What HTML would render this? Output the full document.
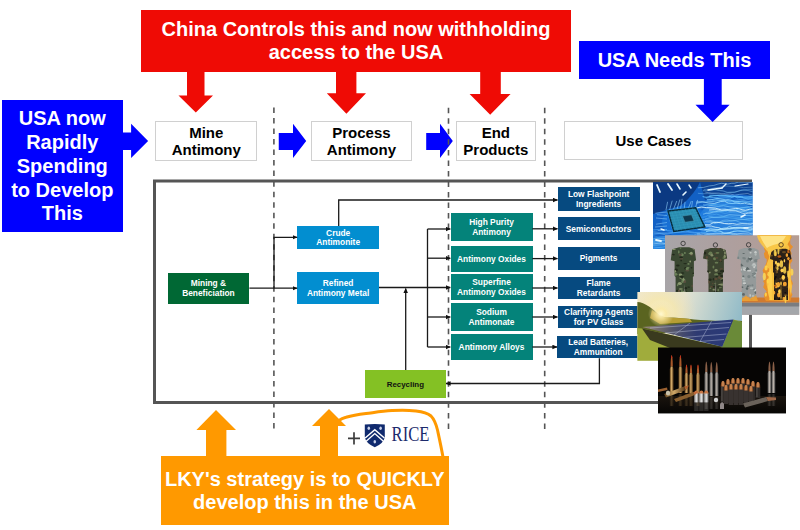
<!DOCTYPE html>
<html><head><meta charset="utf-8">
<style>
html,body{margin:0;padding:0;background:#fff;}
body{width:800px;height:530px;position:relative;overflow:hidden;font-family:"Liberation Sans",sans-serif;}
.a{position:absolute;}
.big{font-weight:bold;font-size:20px;color:#fff;text-align:center;white-space:nowrap;}
.lab{position:absolute;box-sizing:border-box;border:1.8px solid #d0d0d0;background:#fff;}
.labt{position:absolute;font-weight:bold;font-size:15px;line-height:16.8px;color:#000;text-align:center;white-space:nowrap;}
.fb{position:absolute;box-sizing:border-box;padding-top:1.8px;display:flex;align-items:center;justify-content:center;text-align:center;color:#fff;font-weight:bold;font-size:8.4px;line-height:9.6px;white-space:nowrap;}
svg{position:absolute;left:0;top:0;}
</style></head>
<body>
<!-- red box -->
<div class="a" style="left:141px;top:10px;width:430.4px;height:61.6px;background:#EF0B05;"></div>
<div class="a big" style="left:141px;top:18px;width:430px;line-height:22.5px;">China Controls this and now withholding<br>access to the USA</div>
<!-- blue top right -->
<div class="a" style="left:578.7px;top:40.7px;width:191.6px;height:38.7px;background:#0000FF;"></div>
<div class="a big" style="left:579px;top:48.7px;width:191px;line-height:22.5px;">USA Needs This</div>
<!-- blue left -->
<div class="a" style="left:1.5px;top:100.1px;width:121.3px;height:131.6px;background:#0000FF;"></div>
<div class="a big" style="left:2px;top:106.8px;width:120.6px;line-height:23.9px;">USA now<br>Rapidly<br>Spending<br>to Develop<br>This</div>

<!-- label boxes -->
<div class="lab" style="left:155px;top:121.1px;width:102.3px;height:40px;"></div>
<div class="labt" style="left:155.6px;top:124.9px;width:101.3px;">Mine<br>Antimony</div>
<div class="lab" style="left:310.7px;top:121.2px;width:101.5px;height:39.8px;"></div>
<div class="labt" style="left:311.2px;top:124.8px;width:100.5px;">Process<br>Antimony</div>
<div class="lab" style="left:455.7px;top:121.2px;width:80.3px;height:39.8px;"></div>
<div class="labt" style="left:456.2px;top:124.8px;width:79.3px;">End<br>Products</div>
<div class="lab" style="left:563.9px;top:121.4px;width:179.1px;height:39.1px;"></div>
<div class="labt" style="left:564.4px;top:133.3px;width:178.1px;">Use Cases</div>

<svg width="800" height="530" viewBox="0 0 800 530">
  <defs>
    <marker id="ah" markerWidth="5" markerHeight="5" refX="4.6" refY="2.5" orient="auto" markerUnits="userSpaceOnUse">
      <path d="M0,0.2 L5,2.5 L0,4.8 z" fill="#111"/>
    </marker>
  </defs>
  <!-- red arrows -->
  <g fill="#EF0B05">
    <polygon points="187,70 204.5,70 204.5,95.5 213,95.5 195.8,112.5 178.5,95.5 187,95.5"/>
    <polygon points="336,70 356.4,70 356.4,93.3 366,93.3 346.4,113.7 326.8,93.3 336,93.3"/>
    <polygon points="480.2,70 500.8,70 500.8,93.9 510.6,93.9 490.2,114.8 469.6,93.9 480.2,93.9"/>
  </g>
  <!-- blue arrows -->
  <g fill="#0000FF">
    <polygon points="703.9,78 721.7,78 721.7,104.8 729.6,104.8 712.6,121.9 695.5,104.8 703.9,104.8"/>
    <polygon points="122,132.6 131.1,132.6 131.1,123.8 148.1,140.9 131.1,158.1 131.1,149.9 122,149.9"/>
    <polygon points="278.75,133 293,133 293,123.8 306.2,141 293,158 293,150 278.75,150"/>
    <polygon points="426.2,133 440,133 440,123.8 452.8,141 440,158 440,150 426.2,150"/>
  </g>
  <!-- dashed lines -->
  <g stroke="#555" stroke-width="1.6" stroke-dasharray="5.5 5.02">
    <line x1="273.9" y1="107.5" x2="273.9" y2="429"/>
    <line x1="448.5" y1="107.8" x2="448.5" y2="429"/>
    <line x1="544.7" y1="107.8" x2="544.7" y2="429"/>
  </g>
  <!-- frame -->
  <rect x="154.5" y="181" width="596" height="221.5" fill="none" stroke="#555" stroke-width="3"/>
</svg>

<!-- flow boxes -->
<div class="fb" style="left:167.5px;top:272.7px;width:81.9px;height:31px;background:#006834;">Mining &amp;<br>Beneficiation</div>
<div class="fb" style="left:297.2px;top:226.1px;width:82px;height:22.6px;background:#028ED0;">Crude<br>Antimonite</div>
<div class="fb" style="left:297.1px;top:272.1px;width:82px;height:31.9px;background:#028ED0;">Refined<br>Antimony Metal</div>

<div class="fb" style="left:450.5px;top:213.2px;width:82px;height:27.5px;background:#04837A;">High Purity<br>Antimony</div>
<div class="fb" style="left:450.5px;top:245.5px;width:82px;height:26.5px;background:#04837A;">Antimony Oxides</div>
<div class="fb" style="left:450.5px;top:273.7px;width:82px;height:26.8px;background:#04837A;">Superfine<br>Antimony Oxides</div>
<div class="fb" style="left:450.5px;top:303.2px;width:82px;height:27.5px;background:#04837A;">Sodium<br>Antimonate</div>
<div class="fb" style="left:450.5px;top:333.7px;width:82px;height:26.5px;background:#04837A;">Antimony Alloys</div>

<div class="fb" style="left:557.6px;top:187.2px;width:82px;height:23.5px;background:#064A80;">Low Flashpoint<br>Ingredients</div>
<div class="fb" style="left:557.6px;top:216.6px;width:82px;height:23.8px;background:#064A80;">Semiconductors</div>
<div class="fb" style="left:557.6px;top:247px;width:82px;height:22.7px;background:#064A80;">Pigments</div>
<div class="fb" style="left:557.6px;top:276.8px;width:82px;height:22.6px;background:#064A80;">Flame<br>Retardants</div>
<div class="fb" style="left:557.6px;top:306px;width:82px;height:22.3px;background:#064A80;">Clarifying Agents<br>for PV Glass</div>
<div class="fb" style="left:557.2px;top:335.7px;width:82px;height:22.6px;background:#064A80;">Lead Batteries,<br>Ammunition</div>

<div class="fb" style="left:364.7px;top:370px;width:81.3px;height:27.5px;background:#84C124;color:#111;font-size:7.9px;">Recycling</div>

<svg width="800" height="530" viewBox="0 0 800 530">
  <g stroke="#1a1a1a" stroke-width="1.3" fill="none">
    <path d="M249.4,288.2 H297.1" marker-end="url(#ah)"/>
    <path d="M274,288.2 V237.3 H297.1" marker-end="url(#ah)"/>
    <path d="M338.7,226 V200 H557.5" marker-end="url(#ah)"/>
    <path d="M379,287.5 H450.3" marker-end="url(#ah)"/>
    <path d="M427.5,229 V347"/>
    <path d="M427.5,229 H450.3" marker-end="url(#ah)"/>
    <path d="M427.5,258.2 H450.3" marker-end="url(#ah)"/>
    <path d="M427.5,317 H450.3" marker-end="url(#ah)"/>
    <path d="M427.5,347 H450.3" marker-end="url(#ah)"/>
    <path d="M532.3,228.8 H557.5" marker-end="url(#ah)"/>
    <path d="M532.3,258.6 H557.5" marker-end="url(#ah)"/>
    <path d="M532.3,288 H557.5" marker-end="url(#ah)"/>
    <path d="M532.3,317 H557.5" marker-end="url(#ah)"/>
    <path d="M532.3,347 H557" marker-end="url(#ah)"/>
    <path d="M405.7,370 V288.5" marker-end="url(#ah)"/>
    <path d="M599.4,358.3 V383.5 H446" marker-end="url(#ah)"/>
  </g>
  <!-- images placeholders -->
  <!-- IMAGES -->
  <defs>
    <clipPath id="cchip"><rect x="653" y="182" width="99.7" height="67"/></clipPath>
    <clipPath id="ccloth"><rect x="665" y="235.3" width="134.2" height="79.5"/></clipPath>
    <clipPath id="csolar"><rect x="637.4" y="291.9" width="104.6" height="68.8"/></clipPath>
    <clipPath id="cbul"><rect x="658" y="347.4" width="128" height="65.8"/></clipPath>
    <linearGradient id="gchip" x1="0" y1="0" x2="1" y2="1">
      <stop offset="0" stop-color="#0b2a66"/>
      <stop offset="0.45" stop-color="#0d4fae"/>
      <stop offset="1" stop-color="#1a78d8"/>
    </linearGradient>
    <radialGradient id="gchipglow" cx="0.78" cy="0.55" r="0.5">
      <stop offset="0" stop-color="#9ad8ff" stop-opacity="0.75"/>
      <stop offset="1" stop-color="#2a8ae8" stop-opacity="0"/>
    </radialGradient>
    <linearGradient id="gwall" x1="0" y1="0" x2="1" y2="0">
      <stop offset="0" stop-color="#a8a5a8"/>
      <stop offset="0.5" stop-color="#ae9f9e"/>
      <stop offset="1" stop-color="#b59c92"/>
    </linearGradient>
    <linearGradient id="gsky" x1="0" y1="0" x2="1" y2="0.2">
      <stop offset="0" stop-color="#f2ead0"/>
      <stop offset="0.45" stop-color="#e2e2d2"/>
      <stop offset="1" stop-color="#94bcc8"/>
    </linearGradient>
    <radialGradient id="gsun" cx="0.22" cy="0.33" r="0.35">
      <stop offset="0" stop-color="#fffbe0"/>
      <stop offset="0.35" stop-color="#ffe890" stop-opacity="0.9"/>
      <stop offset="1" stop-color="#f0d080" stop-opacity="0"/>
    </radialGradient>
    <linearGradient id="gpanel" x1="0" y1="0" x2="1" y2="0">
      <stop offset="0" stop-color="#9a8a78"/>
      <stop offset="0.3" stop-color="#5a5a6a"/>
      <stop offset="0.6" stop-color="#2e3a72"/>
      <stop offset="1" stop-color="#2a3a78"/>
    </linearGradient>
    <radialGradient id="gsun2" cx="0.5" cy="0.5" r="0.5">
      <stop offset="0" stop-color="#fff8d0" stop-opacity="1"/>
      <stop offset="0.4" stop-color="#fbe8a0" stop-opacity="0.8"/>
      <stop offset="1" stop-color="#f0e0b0" stop-opacity="0"/>
    </radialGradient>
    <linearGradient id="gbrass" x1="0" y1="0" x2="1" y2="0">
      <stop offset="0" stop-color="#5a3c18"/>
      <stop offset="0.45" stop-color="#d0a868"/>
      <stop offset="1" stop-color="#4a3014"/>
    </linearGradient>
    <linearGradient id="gsilver" x1="0" y1="0" x2="1" y2="0">
      <stop offset="0" stop-color="#4a4a4a"/>
      <stop offset="0.5" stop-color="#b8b0a8"/>
      <stop offset="1" stop-color="#3a3a3a"/>
    </linearGradient>
    <linearGradient id="gsilver2" x1="0" y1="0" x2="1" y2="0">
      <stop offset="0" stop-color="#8a8a8a"/>
      <stop offset="0.5" stop-color="#e0e0e0"/>
      <stop offset="1" stop-color="#707070"/>
    </linearGradient>
    <linearGradient id="grefl" x1="0" y1="0" x2="0" y2="1">
      <stop offset="0" stop-color="#1a140e"/>
      <stop offset="1" stop-color="#060504"/>
    </linearGradient>
    <linearGradient id="gcopper" x1="0" y1="0" x2="1" y2="0">
      <stop offset="0" stop-color="#6a3010"/>
      <stop offset="0.5" stop-color="#e09a60"/>
      <stop offset="1" stop-color="#5a2a10"/>
    </linearGradient>
  </defs>

  <!-- chip image -->
  <g clip-path="url(#cchip)">
    <rect x="653" y="182" width="100.7" height="68" fill="#1260c4"/>
    <path d="M653,182 L700,182 C695,192 688,200 680,206 L653,214 Z" fill="#0a2c6c" opacity="0.75"/>
    <path d="M700,182 L752.7,182 L752.7,196 C735,192 715,196 705,200 Z" fill="#0a2a6a" opacity="0.55"/>
    <ellipse cx="728" cy="222" rx="30" ry="22" fill="#3a9af0" opacity="0.55"/>
    <ellipse cx="686" cy="222" rx="24" ry="16" fill="#1a7ae0" opacity="0.6"/>
    <ellipse cx="665" cy="244" rx="16" ry="8" fill="#3aa0f0" opacity="0.5"/>
    <path d="M698.1,187.8 Q703.7,187.9 709.3,185.9 Q713.8,185.9 718.2,184.0 Q721.4,182.7 724.5,183.7 Q727.9,184.7 731.3,183.3 Q734.8,183.7 738.3,182.1 Q745.1,181.8 751.8,182.5 Q758.7,183.5 765.7,180.5" stroke="#b8ecff" stroke-width="0.87" fill="none" opacity="0.52"/>
    <path d="M703.8,189.5 Q709.6,189.7 715.3,187.7 Q719.1,188.4 722.8,186.0 Q728.1,186.0 733.3,186.5 Q738.4,186.4 743.6,187.7 Q750.3,187.0 757.0,187.1" stroke="#b8ecff" stroke-width="0.64" fill="none" opacity="0.46"/>
    <path d="M702.9,190.6 Q707.3,190.9 711.7,190.3 Q715.0,189.3 718.3,190.4 Q722.6,190.2 727.0,192.3 Q733.8,192.5 740.7,190.4 Q746.9,190.0 753.0,191.8 Q757.4,192.7 761.8,191.8" stroke="#8fd8ff" stroke-width="1.07" fill="none" opacity="0.39"/>
    <path d="M705.3,192.2 Q708.5,192.6 711.8,193.1 Q718.8,192.4 725.7,194.5 Q730.3,193.0 734.8,195.2 Q739.7,194.1 744.5,193.8 Q747.7,192.6 751.0,194.9 Q755.0,196.0 759.0,194.5" stroke="#e0f8ff" stroke-width="0.80" fill="none" opacity="0.40"/>
    <path d="M697.9,193.3 Q702.6,194.0 707.4,193.6 Q714.3,193.2 721.3,194.4 Q725.2,193.3 729.1,192.5 Q734.7,193.5 740.4,190.4 Q744.1,189.3 747.8,189.4 Q753.0,188.9 758.1,189.9" stroke="#8fd8ff" stroke-width="0.83" fill="none" opacity="0.43"/>
    <path d="M709.3,195.4 Q715.0,195.1 720.8,195.7 Q725.3,195.4 729.9,195.6 Q733.7,195.4 737.4,197.8 Q740.9,196.6 744.3,198.2 Q749.6,199.5 754.9,198.4 Q760.3,197.5 765.8,196.5" stroke="#60c0ff" stroke-width="1.08" fill="none" opacity="0.58"/>
    <path d="M702.6,196.5 Q706.1,198.0 709.6,196.5 Q714.5,195.4 719.4,195.6 Q725.4,195.6 731.4,196.7 Q737.2,195.8 742.9,196.8 Q749.7,197.3 756.6,196.2" stroke="#60c0ff" stroke-width="1.09" fill="none" opacity="0.90"/>
    <path d="M705.7,198.2 Q709.8,197.2 713.8,197.6 Q719.9,198.5 726.0,197.8 Q730.3,198.7 734.6,196.6 Q741.6,197.5 748.5,198.1 Q754.8,197.3 761.1,199.2" stroke="#60c0ff" stroke-width="0.97" fill="none" opacity="0.66"/>
    <path d="M707.1,199.8 Q712.0,200.1 716.8,198.4 Q721.2,199.1 725.6,199.8 Q730.0,198.5 734.4,201.9 Q737.8,201.4 741.2,201.8 Q746.1,202.1 751.1,203.9 Q754.1,203.4 757.1,205.7" stroke="#8fd8ff" stroke-width="1.05" fill="none" opacity="0.74"/>
    <path d="M706.5,200.9 Q711.4,201.8 716.3,199.5 Q720.7,200.9 725.0,200.8 Q729.6,202.2 734.2,200.4 Q740.1,199.3 746.0,199.0 Q749.6,199.9 753.2,200.7 Q756.7,202.2 760.3,202.2" stroke="#60c0ff" stroke-width="0.68" fill="none" opacity="0.74"/>
    <path d="M696.3,202.1 Q702.5,200.9 708.7,203.1 Q714.7,204.5 720.7,201.5 Q724.5,200.1 728.2,203.1 Q732.1,203.9 736.0,203.1 Q740.3,204.1 744.6,203.3 Q747.8,204.5 751.0,204.4 Q756.7,204.4 762.3,205.8" stroke="#b8ecff" stroke-width="0.87" fill="none" opacity="0.85"/>
    <path d="M696.3,203.4 Q701.0,201.9 705.8,202.0 Q712.0,202.0 718.2,200.6 Q724.1,200.1 730.0,200.8 Q735.1,201.7 740.1,201.1 Q743.5,200.3 747.0,201.3 Q751.1,201.4 755.2,202.5" stroke="#8fd8ff" stroke-width="0.82" fill="none" opacity="0.69"/>
    <path d="M703.1,204.9 Q708.1,204.8 713.2,205.8 Q718.3,207.1 723.4,205.7 Q729.2,207.0 735.0,207.3 Q739.1,208.7 743.1,207.6 Q749.5,206.5 755.8,206.0" stroke="#8fd8ff" stroke-width="0.94" fill="none" opacity="0.62"/>
    <path d="M699.0,206.1 Q703.2,206.9 707.4,204.5 Q714.2,204.1 720.9,205.1 Q724.9,205.0 728.9,203.5 Q734.9,204.6 740.9,201.7 Q744.6,200.9 748.2,202.4 Q754.0,202.2 759.9,204.6" stroke="#60c0ff" stroke-width="0.76" fill="none" opacity="0.60"/>
    <path d="M696.3,207.9 Q701.5,206.4 706.7,207.6 Q711.0,207.6 715.4,208.1 Q718.6,209.0 721.9,210.3 Q728.8,209.6 735.6,208.5 Q738.8,207.9 742.0,209.8 Q745.5,211.0 749.0,209.4 Q755.3,208.4 761.6,208.4" stroke="#e0f8ff" stroke-width="0.95" fill="none" opacity="0.90"/>
    <path d="M696.8,208.5 Q702.6,207.2 708.3,208.2 Q715.1,209.1 721.8,208.8 Q725.2,207.5 728.5,210.3 Q734.9,209.9 741.4,210.1 Q746.6,209.4 751.8,212.0 Q755.3,211.2 758.8,212.1" stroke="#b8ecff" stroke-width="0.73" fill="none" opacity="0.42"/>
    <path d="M709.1,210.0 Q714.6,209.1 720.1,210.2 Q724.9,209.5 729.6,210.9 Q735.9,209.5 742.1,213.1 Q745.1,214.5 748.2,213.1 Q753.3,213.0 758.3,212.0" stroke="#e0f8ff" stroke-width="0.93" fill="none" opacity="0.74"/>
    <path d="M708.4,211.9 Q715.3,211.0 722.2,211.0 Q726.1,212.2 730.0,209.7 Q736.0,211.2 741.9,208.1 Q748.8,206.6 755.7,209.6" stroke="#60c0ff" stroke-width="0.82" fill="none" opacity="0.73"/>
    <path d="M705.3,212.7 Q709.8,214.1 714.4,212.7 Q719.8,211.3 725.2,213.5 Q728.9,212.1 732.6,212.5 Q737.1,214.0 741.5,211.8 Q745.8,212.9 750.1,209.7 Q754.0,209.2 757.9,208.3" stroke="#60c0ff" stroke-width="0.85" fill="none" opacity="0.40"/>
    <path d="M703.1,214.2 Q706.1,213.0 709.1,213.2 Q713.7,211.8 718.3,211.2 Q722.5,211.4 726.7,210.0 Q731.9,210.5 737.0,211.1 Q742.8,210.8 748.7,212.8 Q753.0,211.7 757.3,214.9" stroke="#b8ecff" stroke-width="0.62" fill="none" opacity="0.78"/>
    <path d="M708.5,216.4 Q714.0,217.3 719.5,217.4 Q723.1,217.4 726.6,217.5 Q733.0,218.5 739.3,218.9 Q744.6,219.4 750.0,220.6 Q755.7,219.2 761.5,219.4" stroke="#60c0ff" stroke-width="1.08" fill="none" opacity="0.43"/>
    <path d="M702.3,217.3 Q705.5,217.3 708.7,215.1 Q712.7,215.0 716.7,214.1 Q720.0,215.3 723.2,216.0 Q726.6,216.7 730.0,216.1 Q734.9,217.2 739.8,217.5 Q743.7,216.7 747.6,218.6 Q753.2,219.6 758.8,218.4" stroke="#60c0ff" stroke-width="0.98" fill="none" opacity="0.40"/>
    <path d="M705.0,218.9 Q708.3,218.2 711.6,217.4 Q717.6,217.6 723.6,216.5 Q726.6,215.8 729.7,214.6 Q735.4,215.1 741.0,215.4 Q745.2,215.3 749.4,215.5 Q754.2,216.7 759.1,213.8" stroke="#8fd8ff" stroke-width="1.07" fill="none" opacity="0.47"/>
    <path d="M702.4,219.6 Q708.7,219.5 715.0,221.7 Q719.1,223.0 723.1,220.4 Q727.0,219.3 730.8,220.8 Q735.9,219.7 741.0,222.8 Q747.3,223.9 753.6,222.8 Q759.4,224.0 765.2,221.6" stroke="#8fd8ff" stroke-width="0.68" fill="none" opacity="0.64"/>
    <path d="M705.5,222.1 Q710.2,221.9 714.8,223.1 Q719.3,222.6 723.8,221.5 Q728.1,221.2 732.4,220.8 Q739.2,219.3 745.9,219.4 Q751.9,218.1 757.8,218.3" stroke="#8fd8ff" stroke-width="0.78" fill="none" opacity="0.58"/>
    <path d="M699.9,222.9 Q703.0,223.9 706.2,221.2 Q710.4,220.4 714.5,223.1 Q718.6,222.1 722.6,223.1 Q727.1,224.3 731.6,225.1 Q737.9,226.4 744.1,225.7 Q750.9,226.4 757.7,225.9" stroke="#e0f8ff" stroke-width="0.83" fill="none" opacity="0.38"/>
    <path d="M705.0,224.7 Q709.2,226.0 713.3,222.7 Q716.8,222.2 720.3,222.6 Q724.5,224.0 728.7,223.6 Q732.8,223.1 736.8,224.3 Q742.0,223.3 747.3,223.9 Q750.9,225.1 754.5,222.6 Q759.5,223.8 764.5,221.4" stroke="#e0f8ff" stroke-width="0.81" fill="none" opacity="0.95"/>
    <path d="M699.4,225.9 Q703.1,225.3 706.8,226.1 Q711.3,225.2 715.8,227.5 Q718.8,227.1 721.9,229.1 Q727.9,228.4 733.9,227.8 Q739.9,228.0 745.9,227.8 Q750.3,227.9 754.8,228.6 Q760.9,227.4 767.1,230.2" stroke="#e0f8ff" stroke-width="0.80" fill="none" opacity="0.89"/>
    <path d="M709.4,227.1 Q715.7,225.7 722.1,228.8 Q725.3,230.0 728.4,229.7 Q733.3,228.2 738.2,230.1 Q742.8,231.1 747.3,232.0 Q753.7,231.2 760.2,234.0" stroke="#b8ecff" stroke-width="0.68" fill="none" opacity="0.42"/>
    <path d="M697.5,229.2 Q703.8,230.2 710.1,230.1 Q716.7,230.9 723.3,228.2 Q726.3,228.4 729.3,226.6 Q732.4,228.0 735.6,227.5 Q741.1,227.3 746.6,227.6 Q752.7,227.0 758.7,225.9" stroke="#b8ecff" stroke-width="0.79" fill="none" opacity="0.92"/>
    <path d="M704.4,229.7 Q707.5,229.6 710.5,228.8 Q717.3,229.9 724.2,229.4 Q729.1,228.7 734.0,228.3 Q740.8,227.7 747.7,229.2 Q750.7,229.7 753.8,229.2 Q758.5,229.7 763.2,228.1" stroke="#b8ecff" stroke-width="0.85" fill="none" opacity="0.91"/>
    <path d="M706.1,231.6 Q710.5,230.2 715.0,231.2 Q719.1,229.9 723.3,232.7 Q728.3,233.5 733.3,231.4 Q737.0,230.7 740.8,231.2 Q747.4,231.6 753.9,229.5 Q759.4,229.5 764.8,231.3" stroke="#8fd8ff" stroke-width="1.07" fill="none" opacity="0.90"/>
    <path d="M701.5,232.4 Q705.4,231.3 709.2,234.5 Q712.4,234.1 715.6,232.5 Q722.2,233.2 728.8,234.2 Q735.8,233.7 742.8,236.1 Q746.5,236.9 750.3,238.0 Q753.4,237.7 756.5,238.8" stroke="#60c0ff" stroke-width="0.82" fill="none" opacity="0.57"/>
    <path d="M697.1,233.7 Q700.4,234.9 703.7,233.4 Q709.0,233.0 714.2,234.5 Q720.3,235.4 726.4,233.7 Q729.7,232.8 733.1,234.6 Q738.2,234.0 743.4,234.3 Q749.4,234.7 755.3,234.2" stroke="#e0f8ff" stroke-width="0.62" fill="none" opacity="0.50"/>
    <path d="M696.9,235.0 Q703.6,235.8 710.2,234.0 Q716.8,233.3 723.4,233.3 Q730.3,232.6 737.1,233.8 Q743.0,233.1 748.8,233.0 Q751.8,234.2 754.8,234.1 Q760.4,232.7 765.9,236.0" stroke="#e0f8ff" stroke-width="0.96" fill="none" opacity="0.49"/>
    <path d="M706.9,237.0 Q713.0,237.9 719.2,238.8 Q722.7,237.3 726.2,238.8 Q733.0,239.3 739.7,237.9 Q743.3,239.0 746.9,236.7 Q751.8,237.0 756.6,238.0" stroke="#e0f8ff" stroke-width="0.98" fill="none" opacity="0.66"/>
    <path d="M696.9,238.1 Q700.0,237.6 703.2,238.3 Q710.1,239.8 717.0,240.0 Q721.1,238.8 725.1,238.2 Q730.1,238.0 735.1,239.1 Q739.1,239.5 743.0,238.7 Q748.7,239.8 754.4,239.8 Q760.1,240.9 765.7,238.2" stroke="#60c0ff" stroke-width="0.79" fill="none" opacity="0.53"/>
    <path d="M698.8,240.1 Q702.8,239.0 706.8,239.0 Q713.3,238.4 719.8,239.3 Q724.4,239.3 729.0,241.5 Q732.9,241.9 736.9,242.8 Q743.8,242.8 750.8,241.1 Q757.1,242.3 763.3,242.6" stroke="#60c0ff" stroke-width="0.72" fill="none" opacity="0.37"/>
    <path d="M704.4,240.7 Q710.7,239.4 717.0,239.3 Q722.1,239.6 727.1,237.9 Q733.2,236.4 739.3,238.6 Q744.9,238.2 750.4,239.5 Q753.6,238.2 756.7,238.8" stroke="#8fd8ff" stroke-width="0.90" fill="none" opacity="0.95"/>
    <path d="M698.8,242.8 Q701.9,243.3 704.9,242.0 Q708.7,241.1 712.4,241.2 Q718.6,239.9 724.8,241.4 Q728.2,241.6 731.6,240.9 Q737.2,239.9 742.7,239.1 Q748.5,238.5 754.3,238.8 Q758.5,238.2 762.7,240.7" stroke="#60c0ff" stroke-width="0.81" fill="none" opacity="0.69"/>
    <path d="M706.7,243.4 Q712.9,243.1 719.2,244.1 Q723.8,243.9 728.4,246.0 Q732.0,244.8 735.6,244.3 Q741.0,245.1 746.3,243.7 Q749.8,242.6 753.3,241.7 Q759.5,242.0 765.8,241.3" stroke="#b8ecff" stroke-width="0.67" fill="none" opacity="0.91"/>
    <path d="M703.3,245.1 Q710.0,245.1 716.7,243.4 Q722.9,242.5 729.1,245.5 Q732.6,246.9 736.2,247.4 Q741.1,248.7 746.0,245.5 Q750.6,245.8 755.1,247.2" stroke="#b8ecff" stroke-width="0.92" fill="none" opacity="0.84"/>
    <path d="M704.7,247.2 Q710.2,247.1 715.6,245.9 Q720.9,247.2 726.1,243.9 Q729.8,242.8 733.4,243.3 Q740.3,242.3 747.2,244.6 Q753.7,245.2 760.2,246.2" stroke="#60c0ff" stroke-width="0.66" fill="none" opacity="0.75"/>
    <path d="M703.7,248.3 Q709.2,248.1 714.7,247.5 Q720.0,247.9 725.4,247.1 Q730.2,245.7 735.0,246.9 Q740.4,246.1 745.9,246.8 Q752.0,246.7 758.0,248.1" stroke="#e0f8ff" stroke-width="0.80" fill="none" opacity="0.46"/>
    <path d="M653,230.0 L658.3,229.6 L665.2,230.5 L672.7,231.0 L677.9,229.8 L687.5,229.3 L696.1,228.0 L704.9,229.2" stroke="#5ab4ff" stroke-width="0.7" fill="none" opacity="0.88"/>
    <path d="M653,231.4 L658.7,232.5 L668.7,233.2 L677.7,232.2 L687.6,232.2 L697.4,233.5 L703.3,234.3" stroke="#8fd4ff" stroke-width="0.7" fill="none" opacity="0.43"/>
    <path d="M653,232.8 L659.8,233.6 L665.5,234.8 L671.9,235.7 L677.6,235.7 L687.2,234.8 L693.6,234.9 L700.2,233.5" stroke="#8fd4ff" stroke-width="0.7" fill="none" opacity="0.60"/>
    <path d="M653,234.2 L661.2,233.5 L667.8,233.2 L676.8,232.5 L685.6,231.1 L694.9,232.5 L702.2,232.6" stroke="#5ab4ff" stroke-width="0.7" fill="none" opacity="0.84"/>
    <path d="M653,235.6 L658.5,237.1 L666.7,236.8 L675.7,236.1 L685.6,236.3 L692.4,237.1 L699.6,236.1 L708.3,234.8" stroke="#5ab4ff" stroke-width="0.7" fill="none" opacity="0.53"/>
    <path d="M653,237.0 L661.2,238.5 L669.1,238.9 L675.7,237.4 L680.9,236.4 L688.9,236.2 L696.5,237.4 L702.2,236.6" stroke="#5ab4ff" stroke-width="0.7" fill="none" opacity="0.42"/>
    <path d="M653,238.4 L658.3,238.6 L664.8,238.7 L672.5,238.4 L679.0,237.3 L685.8,238.3 L691.6,236.8 L700.6,237.5" stroke="#b8e8ff" stroke-width="0.7" fill="none" opacity="0.45"/>
    <path d="M653,239.8 L661.2,240.9 L670.1,240.6 L676.4,239.2 L684.6,239.3 L691.4,239.8 L698.6,241.1 L707.3,240.3" stroke="#8fd4ff" stroke-width="0.7" fill="none" opacity="0.42"/>
    <path d="M653,241.2 L660.7,240.9 L666.8,239.6 L675.7,238.1 L683.5,239.5 L689.2,238.6 L697.2,238.6 L705.5,239.5" stroke="#8fd4ff" stroke-width="0.7" fill="none" opacity="0.65"/>
    <path d="M653,242.6 L658.3,243.0 L668.3,243.7 L675.7,243.8 L682.6,243.6 L692.1,242.3 L700.4,241.3" stroke="#8fd4ff" stroke-width="0.7" fill="none" opacity="0.53"/>
    <path d="M653,244.0 L661.2,242.9 L670.7,244.1 L680.4,243.4 L685.7,243.8 L694.0,244.4 L703.6,245.8" stroke="#b8e8ff" stroke-width="0.7" fill="none" opacity="0.72"/>
    <path d="M653,245.4 L662.8,244.6 L672.2,243.1 L678.5,242.3 L687.2,243.6 L696.0,243.1 L705.4,242.6" stroke="#8fd4ff" stroke-width="0.7" fill="none" opacity="0.59"/>
    <path d="M653,246.8 L662.3,248.1 L672.2,249.1 L679.8,249.0 L687.5,247.5 L692.6,248.9 L698.8,250.0 L707.8,249.7" stroke="#5ab4ff" stroke-width="0.7" fill="none" opacity="0.44"/>
    <path d="M653,248.2 L662.6,247.1 L667.7,246.0 L677.3,245.5 L683.0,244.1 L688.3,244.7 L696.4,245.2 L705.1,243.9" stroke="#5ab4ff" stroke-width="0.7" fill="none" opacity="0.78"/>
    <path d="M666.0,210 L667.6,201.8" stroke="#9ad8ff" stroke-width="0.7" opacity="0.8"/>
    <path d="M669.6,210 L672.2,200.7" stroke="#9ad8ff" stroke-width="0.7" opacity="0.8"/>
    <path d="M673.2,210 L676.8,201.0" stroke="#9ad8ff" stroke-width="0.7" opacity="0.8"/>
    <path d="M676.8,210 L679.9,199.5" stroke="#9ad8ff" stroke-width="0.7" opacity="0.8"/>
    <path d="M680.4,210 L682.1,198.8" stroke="#9ad8ff" stroke-width="0.7" opacity="0.8"/>
    <path d="M684.0,210 L685.1,201.8" stroke="#9ad8ff" stroke-width="0.7" opacity="0.8"/>
    <path d="M687.6,210 L691.3,201.0" stroke="#9ad8ff" stroke-width="0.7" opacity="0.8"/>
    <path d="M691.2,210 L692.5,201.0" stroke="#9ad8ff" stroke-width="0.7" opacity="0.8"/>
    <path d="M694.8,210 L697.7,199.9" stroke="#9ad8ff" stroke-width="0.7" opacity="0.8"/>
    <path d="M667,212.0 L655.4,213.2" stroke="#9ad8ff" stroke-width="0.7" opacity="0.7"/>
    <path d="M667,215.5 L656.9,214.7" stroke="#9ad8ff" stroke-width="0.7" opacity="0.7"/>
    <path d="M667,219.0 L656.0,218.0" stroke="#9ad8ff" stroke-width="0.7" opacity="0.7"/>
    <path d="M667,222.5 L656.1,224.2" stroke="#9ad8ff" stroke-width="0.7" opacity="0.7"/>
    <path d="M667,226.0 L655.1,227.0" stroke="#9ad8ff" stroke-width="0.7" opacity="0.7"/>
    <path d="M667,229.5 L657.7,230.6" stroke="#9ad8ff" stroke-width="0.7" opacity="0.7"/>
    <path d="M657,185 L660,192" stroke="#e8f8ff" stroke-width="1.8" stroke-linecap="round"/>
    <path d="M668,184 L672,190" stroke="#e8f8ff" stroke-width="1.8" stroke-linecap="round"/>
    <path d="M677,184 L680,189" stroke="#e8f8ff" stroke-width="1.6" stroke-linecap="round"/>
    <path d="M689,185 L691,188" stroke="#e8f8ff" stroke-width="1.5" stroke-linecap="round"/>
    <path d="M683,195 L686,192" stroke="#e8f8ff" stroke-width="1.6" stroke-linecap="round"/>
    <path d="M708,190 L722,188" stroke="#e8f8ff" stroke-width="1.4" stroke-linecap="round"/>
    <path d="M722,188 L726,184" stroke="#e8f8ff" stroke-width="1.4" stroke-linecap="round"/>
    <path d="M735,186 L748,184" stroke="#e8f8ff" stroke-width="1.2" stroke-linecap="round"/>
    <path d="M741,217 L745,215" stroke="#e8f8ff" stroke-width="1.6" stroke-linecap="round"/>
    <path d="M744,228 L748,228" stroke="#e8f8ff" stroke-width="1.4" stroke-linecap="round"/>
    <path d="M661,229 L664,230" stroke="#e8f8ff" stroke-width="1.4" stroke-linecap="round"/>
    <path d="M656,240 L661,241" stroke="#e8f8ff" stroke-width="1.8" stroke-linecap="round"/>
    <path d="M700,242 L708,243" stroke="#e8f8ff" stroke-width="1.4" stroke-linecap="round"/>
    <path d="M742,245 L749,246" stroke="#e8f8ff" stroke-width="1.6" stroke-linecap="round"/>
    <polygon points="666.5,210 696.5,206.5 706.3,227.8 673,232.8" fill="#4ab8f0" opacity="0.6"/>
    <polygon points="668,211 695.6,207.7 704.8,227 673.8,231.5" fill="#2a8cb0" stroke="#062a3c" stroke-width="1.5"/>
    <path d="M668.7,213.6 L696.8,210.1" stroke="#3aa8c8" stroke-width="0.5" opacity="0.6"/>
    <path d="M671.5,210.6 L677.7,230.9" stroke="#3aa8c8" stroke-width="0.5" opacity="0.6"/>
    <path d="M669.5,216.1 L697.9,212.5" stroke="#3aa8c8" stroke-width="0.5" opacity="0.6"/>
    <path d="M674.9,210.2 L681.5,230.4" stroke="#3aa8c8" stroke-width="0.5" opacity="0.6"/>
    <path d="M670.2,218.7 L699.0,214.9" stroke="#3aa8c8" stroke-width="0.5" opacity="0.6"/>
    <path d="M678.4,209.8 L685.4,229.8" stroke="#3aa8c8" stroke-width="0.5" opacity="0.6"/>
    <path d="M670.9,221.2 L700.2,217.3" stroke="#3aa8c8" stroke-width="0.5" opacity="0.6"/>
    <path d="M681.8,209.3 L689.3,229.2" stroke="#3aa8c8" stroke-width="0.5" opacity="0.6"/>
    <path d="M671.6,223.8 L701.4,219.8" stroke="#3aa8c8" stroke-width="0.5" opacity="0.6"/>
    <path d="M685.2,208.9 L693.2,228.7" stroke="#3aa8c8" stroke-width="0.5" opacity="0.6"/>
    <path d="M672.3,226.4 L702.5,222.2" stroke="#3aa8c8" stroke-width="0.5" opacity="0.6"/>
    <path d="M688.7,208.5 L697.0,228.1" stroke="#3aa8c8" stroke-width="0.5" opacity="0.6"/>
    <path d="M673.1,228.9 L703.6,224.6" stroke="#3aa8c8" stroke-width="0.5" opacity="0.6"/>
    <path d="M692.1,208.1 L700.9,227.6" stroke="#3aa8c8" stroke-width="0.5" opacity="0.6"/>
    <polygon points="682.5,216 691.5,214.8 694,221 685,222.2" fill="#0e3a50" stroke="#4aa0b8" stroke-width="0.5"/>

  </g>

  <!-- clothing image -->
  <g clip-path="url(#ccloth)">
    <rect x="665" y="235" width="135" height="80" fill="url(#gwall)"/>
    <rect x="741.5" y="298" width="59" height="17" fill="#a4a6aa"/>
    <rect x="741.5" y="302.5" width="59" height="4" fill="#7a7c80"/>
    <rect x="741.5" y="297.5" width="59" height="5" fill="#d07a30"/>
    <defs>
    <clipPath id="fig0"><path d="M679.2,247.3 L689.2,247.3 L694.6,249.3 L696.1,260.3 L693.9,261.3 L693.9,276 L692.9,277.0 L692.9,300 L684.9,300 L684.2,284.0 L683.6,300 L675.6,300 L675.6,277.0 L674.6,276 L674.6,261.3 L670.7,260.3 L672.2,249.3 Z"/></clipPath>
    <clipPath id="fig1"><path d="M710.7,247.9 L720.7,247.9 L725.7,249.9 L727.2,258.5 L723.9,259.5 L723.9,272 L722.9,273.0 L722.9,300 L716.3,300 L715.7,280.0 L715.1,300 L708.5,300 L708.5,273.0 L707.5,272 L707.5,259.5 L703.0,258.5 L704.5,249.9 Z"/></clipPath>
    <clipPath id="fig2"><path d="M744.0,248.0 L754.0,248.0 L758.4,250.0 L759.9,258.8 L757.1,259.8 L757.1,272 L756.1,273.0 L756.1,300.6 L749.6,300.6 L749.0,280.0 L748.4,300.6 L741.8,300.6 L741.8,273.0 L740.8,272 L740.8,259.8 L737.2,258.8 L738.7,250.0 Z"/></clipPath>
    <clipPath id="fig3"><path d="M776.0,248.7 L786.0,248.7 L790.0,250.7 L791.5,259.0 L789.0,260.0 L789.0,272 L788.0,273.0 L788.0,300 L781.6,300 L781.0,280.0 L780.4,300 L774.0,300 L774.0,273.0 L773.0,272 L773.0,260.0 L770.0,259.0 L771.5,250.7 Z"/></clipPath>
    </defs>
    <path d="M757.5,234.6 L759.5,237.7 L760.6,240.1 L758.7,241.4 L764.0,244.4 L764.8,245.5 L763.9,248.3 L765.2,251.7 L763.9,253.3 L764.8,258.1 L766.7,259.1 L766.6,262.0 L765.5,265.0 L762.6,270.5 L763.2,272.2 L766.4,277.5 L763.1,281.2 L764.4,283.5 L763.2,287.2 L765.6,290.2 L766.7,291.5 L764.6,293.4 L763.9,295.4 L764.9,299.0 L766.0,301.0 L790.4,301.3 L791.2,297.4 L792.5,294.5 L790.7,291.2 L791.7,287.1 L792.8,283.6 L792.3,281.7 L790.2,278.1 L791.6,274.2 L790.2,269.6 L790.5,267.9 L790.3,264.0 L792.4,260.8 L790.8,256.2 L791.6,253.5 L790.5,250.0 L793.0,246.7 L790.3,243.9 L790.2,239.7 L791.6,237.8 L791.0,234.0 Z" fill="#e8902a"/>
    <path d="M760.4,237.0 L762.4,238.0 L762.8,240.2 L763.1,242.7 L766.8,247.2 L765.4,247.4 L769.4,251.1 L767.9,252.9 L769.4,256.8 L768.6,259.3 L766.7,264.0 L766.4,266.5 L769.4,269.1 L768.9,274.6 L768.5,277.7 L766.4,280.3 L766.6,284.8 L767.4,287.9 L770.5,292.8 L770.7,295.9 L769.0,300.0 L789.0,300.4 L788.9,296.1 L788.7,292.4 L788.6,290.4 L790.4,286.2 L789.2,282.2 L788.3,278.6 L790.6,276.2 L789.6,272.5 L790.6,268.9 L790.0,265.5 L788.8,261.9 L788.3,258.0 L789.8,254.8 L788.4,251.8 L789.4,247.6 L787.5,244.1 L788.0,242.3 L788.4,240.6 L788.7,238.5 L788.0,236.0 Z" fill="#f8c040"/>
    <g clip-path="url(#fig0)">
    <rect x="670.2" y="246.3" width="26.399999999999977" height="54.69999999999999" fill="#3a4832"/>
    <ellipse cx="682.2" cy="276.8" rx="2.1" ry="1.1" fill="#222a1c"/>
    <ellipse cx="675.7" cy="274.3" rx="1.7" ry="1.4" fill="#6a8058"/>
    <ellipse cx="682.1" cy="254.8" rx="1.6" ry="1.5" fill="#6a8058"/>
    <ellipse cx="685.7" cy="268.2" rx="1.4" ry="1.3" fill="#222a1c"/>
    <ellipse cx="686.4" cy="291.1" rx="0.9" ry="0.6" fill="#222a1c"/>
    <ellipse cx="685.8" cy="288.3" rx="1.3" ry="1.2" fill="#222a1c"/>
    <ellipse cx="683.9" cy="281.0" rx="1.5" ry="1.3" fill="#8a9870"/>
    <ellipse cx="687.2" cy="268.7" rx="1.6" ry="1.5" fill="#6a8058"/>
    <ellipse cx="688.5" cy="263.9" rx="1.1" ry="0.9" fill="#6a8058"/>
    <ellipse cx="684.9" cy="253.0" rx="1.0" ry="0.9" fill="#6a8058"/>
    <ellipse cx="694.6" cy="292.0" rx="0.8" ry="0.8" fill="#6a8058"/>
    <ellipse cx="682.7" cy="299.0" rx="1.4" ry="0.7" fill="#222a1c"/>
    <ellipse cx="690.2" cy="261.5" rx="0.9" ry="0.9" fill="#8a9870"/>
    <ellipse cx="689.7" cy="253.5" rx="1.1" ry="0.7" fill="#6a8058"/>
    <ellipse cx="682.5" cy="273.0" rx="1.8" ry="0.8" fill="#222a1c"/>
    <ellipse cx="695.2" cy="287.9" rx="1.4" ry="1.0" fill="#8a9870"/>
    <ellipse cx="681.5" cy="258.5" rx="1.2" ry="1.6" fill="#5a5040"/>
    <ellipse cx="695.5" cy="248.3" rx="1.1" ry="1.6" fill="#6a8058"/>
    <ellipse cx="672.2" cy="255.0" rx="1.4" ry="0.6" fill="#5a5040"/>
    <ellipse cx="691.5" cy="267.7" rx="0.9" ry="0.8" fill="#222a1c"/>
    <ellipse cx="671.6" cy="266.7" rx="1.7" ry="0.7" fill="#8a9870"/>
    <ellipse cx="691.5" cy="254.5" rx="1.3" ry="1.2" fill="#5a5040"/>
    <ellipse cx="693.4" cy="290.4" rx="1.1" ry="0.8" fill="#222a1c"/>
    <ellipse cx="688.0" cy="267.8" rx="1.5" ry="0.7" fill="#6a8058"/>
    <ellipse cx="673.7" cy="249.3" rx="2.1" ry="0.8" fill="#8a9870"/>
    <ellipse cx="677.5" cy="290.7" rx="1.6" ry="0.9" fill="#222a1c"/>
    <ellipse cx="693.9" cy="298.8" rx="1.0" ry="1.1" fill="#6a8058"/>
    <ellipse cx="678.0" cy="295.6" rx="1.1" ry="0.6" fill="#5a5040"/>
    <ellipse cx="681.2" cy="260.4" rx="0.9" ry="0.9" fill="#222a1c"/>
    <ellipse cx="673.4" cy="254.6" rx="1.4" ry="0.9" fill="#222a1c"/>
    <ellipse cx="685.6" cy="296.0" rx="1.5" ry="1.0" fill="#5a5040"/>
    <ellipse cx="694.7" cy="248.4" rx="1.7" ry="1.1" fill="#5a5040"/>
    <ellipse cx="679.0" cy="300.0" rx="0.9" ry="1.1" fill="#6a8058"/>
    <ellipse cx="693.2" cy="286.1" rx="1.8" ry="1.4" fill="#5a5040"/>
    <ellipse cx="679.8" cy="283.4" rx="2.1" ry="1.5" fill="#8a9870"/>
    <ellipse cx="694.2" cy="248.9" rx="1.5" ry="0.6" fill="#8a9870"/>
    <ellipse cx="680.5" cy="248.0" rx="0.9" ry="0.7" fill="#6a8058"/>
    <ellipse cx="695.4" cy="293.7" rx="1.8" ry="1.0" fill="#8a9870"/>
    <ellipse cx="681.9" cy="291.5" rx="0.9" ry="1.4" fill="#6a8058"/>
    <ellipse cx="678.8" cy="251.9" rx="0.8" ry="1.6" fill="#6a8058"/>
    <ellipse cx="683.3" cy="279.7" rx="2.1" ry="0.9" fill="#6a8058"/>
    <ellipse cx="680.2" cy="254.8" rx="1.7" ry="1.1" fill="#5a5040"/>
    <ellipse cx="687.3" cy="270.6" rx="2.0" ry="0.9" fill="#5a5040"/>
    <ellipse cx="676.0" cy="270.0" rx="1.9" ry="1.5" fill="#222a1c"/>
    <ellipse cx="680.6" cy="278.0" rx="1.2" ry="0.7" fill="#8a9870"/>
    <ellipse cx="679.8" cy="294.5" rx="0.9" ry="0.7" fill="#5a5040"/>
    <ellipse cx="691.3" cy="253.2" rx="1.5" ry="1.5" fill="#8a9870"/>
    <ellipse cx="680.5" cy="274.7" rx="1.7" ry="1.3" fill="#8a9870"/>
    <ellipse cx="679.0" cy="291.0" rx="1.2" ry="1.2" fill="#5a5040"/>
    <ellipse cx="685.1" cy="263.6" rx="1.9" ry="0.6" fill="#222a1c"/>
    <ellipse cx="681.1" cy="257.3" rx="1.9" ry="0.9" fill="#222a1c"/>
    <ellipse cx="690.6" cy="299.2" rx="1.0" ry="0.7" fill="#5a5040"/>
    <ellipse cx="694.6" cy="283.4" rx="1.1" ry="1.1" fill="#222a1c"/>
    <ellipse cx="688.6" cy="287.1" rx="1.5" ry="0.6" fill="#222a1c"/>
    <ellipse cx="677.8" cy="265.5" rx="1.8" ry="1.1" fill="#222a1c"/>
    <ellipse cx="680.8" cy="289.0" rx="2.1" ry="0.7" fill="#8a9870"/>
    <ellipse cx="674.4" cy="271.2" rx="1.7" ry="1.5" fill="#8a9870"/>
    <ellipse cx="684.6" cy="281.7" rx="1.5" ry="1.4" fill="#5a5040"/>
    <ellipse cx="682.5" cy="281.6" rx="1.1" ry="1.3" fill="#6a8058"/>
    <ellipse cx="676.4" cy="294.7" rx="2.2" ry="1.6" fill="#5a5040"/>
    <ellipse cx="677.6" cy="285.2" rx="0.8" ry="1.1" fill="#6a8058"/>
    <ellipse cx="682.0" cy="276.3" rx="1.9" ry="1.1" fill="#6a8058"/>
    <ellipse cx="676.5" cy="293.0" rx="1.4" ry="0.6" fill="#5a5040"/>
    <ellipse cx="688.0" cy="295.6" rx="1.5" ry="1.6" fill="#8a9870"/>
    <ellipse cx="694.3" cy="273.3" rx="2.1" ry="0.7" fill="#222a1c"/>
    <ellipse cx="681.9" cy="276.7" rx="2.0" ry="1.2" fill="#222a1c"/>
    <ellipse cx="684.0" cy="291.8" rx="1.6" ry="0.9" fill="#8a9870"/>
    <ellipse cx="694.5" cy="293.2" rx="1.7" ry="0.9" fill="#222a1c"/>
    <ellipse cx="694.8" cy="274.9" rx="1.6" ry="0.8" fill="#6a8058"/>
    <ellipse cx="683.5" cy="279.2" rx="0.8" ry="1.6" fill="#8a9870"/>
    </g>
    <circle cx="683.1" cy="243.4" r="2.2" fill="none" stroke="#3a3a3a" stroke-width="0.9"/>
    <g clip-path="url(#fig1)">
    <rect x="702.5" y="246.9" width="25.200000000000045" height="54.099999999999994" fill="#3c4430"/>
    <ellipse cx="716.1" cy="299.4" rx="1.0" ry="0.7" fill="#242a1c"/>
    <ellipse cx="705.0" cy="276.0" rx="1.4" ry="1.6" fill="#848e68"/>
    <ellipse cx="709.7" cy="272.6" rx="1.0" ry="1.0" fill="#848e68"/>
    <ellipse cx="715.7" cy="253.6" rx="1.4" ry="0.6" fill="#5a4a36"/>
    <ellipse cx="706.5" cy="288.5" rx="0.8" ry="0.8" fill="#242a1c"/>
    <ellipse cx="703.8" cy="262.7" rx="1.8" ry="0.8" fill="#848e68"/>
    <ellipse cx="705.9" cy="286.0" rx="1.0" ry="1.1" fill="#5a4a36"/>
    <ellipse cx="720.2" cy="284.4" rx="2.0" ry="0.6" fill="#848e68"/>
    <ellipse cx="722.6" cy="280.0" rx="1.6" ry="1.5" fill="#242a1c"/>
    <ellipse cx="715.8" cy="292.3" rx="1.7" ry="1.5" fill="#242a1c"/>
    <ellipse cx="724.7" cy="280.6" rx="1.3" ry="0.8" fill="#5a4a36"/>
    <ellipse cx="724.2" cy="258.0" rx="1.9" ry="0.8" fill="#687a52"/>
    <ellipse cx="706.6" cy="260.4" rx="1.8" ry="0.9" fill="#687a52"/>
    <ellipse cx="713.6" cy="296.9" rx="1.6" ry="1.3" fill="#242a1c"/>
    <ellipse cx="712.8" cy="283.6" rx="0.8" ry="0.8" fill="#5a4a36"/>
    <ellipse cx="724.6" cy="298.4" rx="1.0" ry="1.1" fill="#5a4a36"/>
    <ellipse cx="715.2" cy="283.6" rx="1.1" ry="0.7" fill="#687a52"/>
    <ellipse cx="704.1" cy="287.6" rx="1.7" ry="1.5" fill="#848e68"/>
    <ellipse cx="706.9" cy="257.5" rx="1.1" ry="1.4" fill="#5a4a36"/>
    <ellipse cx="725.0" cy="252.9" rx="0.9" ry="1.6" fill="#848e68"/>
    <ellipse cx="705.3" cy="252.9" rx="1.3" ry="1.0" fill="#5a4a36"/>
    <ellipse cx="713.5" cy="279.2" rx="0.8" ry="1.3" fill="#242a1c"/>
    <ellipse cx="707.7" cy="271.6" rx="1.8" ry="1.0" fill="#242a1c"/>
    <ellipse cx="717.5" cy="252.8" rx="1.9" ry="0.9" fill="#687a52"/>
    <ellipse cx="722.1" cy="284.6" rx="2.0" ry="1.2" fill="#848e68"/>
    <ellipse cx="716.7" cy="257.8" rx="1.6" ry="0.9" fill="#5a4a36"/>
    <ellipse cx="710.0" cy="254.0" rx="1.8" ry="0.8" fill="#848e68"/>
    <ellipse cx="706.6" cy="265.1" rx="1.6" ry="1.0" fill="#848e68"/>
    <ellipse cx="721.3" cy="269.0" rx="1.8" ry="0.7" fill="#5a4a36"/>
    <ellipse cx="710.5" cy="253.2" rx="2.0" ry="1.6" fill="#687a52"/>
    <ellipse cx="708.9" cy="297.1" rx="1.7" ry="0.9" fill="#848e68"/>
    <ellipse cx="716.7" cy="275.7" rx="1.3" ry="1.6" fill="#242a1c"/>
    <ellipse cx="719.8" cy="287.6" rx="2.2" ry="0.6" fill="#687a52"/>
    <ellipse cx="720.6" cy="261.3" rx="1.4" ry="0.7" fill="#242a1c"/>
    <ellipse cx="718.5" cy="248.5" rx="1.2" ry="0.9" fill="#5a4a36"/>
    <ellipse cx="716.3" cy="274.4" rx="2.2" ry="1.2" fill="#687a52"/>
    <ellipse cx="718.3" cy="290.1" rx="0.9" ry="1.2" fill="#687a52"/>
    <ellipse cx="712.5" cy="296.8" rx="1.3" ry="1.6" fill="#848e68"/>
    <ellipse cx="716.1" cy="279.0" rx="1.4" ry="1.1" fill="#5a4a36"/>
    <ellipse cx="715.7" cy="279.0" rx="1.3" ry="0.9" fill="#5a4a36"/>
    <ellipse cx="716.5" cy="262.7" rx="1.8" ry="0.9" fill="#687a52"/>
    <ellipse cx="721.4" cy="278.4" rx="1.7" ry="1.0" fill="#848e68"/>
    <ellipse cx="704.7" cy="264.3" rx="1.4" ry="1.2" fill="#5a4a36"/>
    <ellipse cx="705.2" cy="295.1" rx="1.4" ry="1.1" fill="#242a1c"/>
    <ellipse cx="704.6" cy="253.0" rx="1.9" ry="1.5" fill="#242a1c"/>
    <ellipse cx="726.2" cy="290.4" rx="1.6" ry="0.7" fill="#848e68"/>
    <ellipse cx="714.1" cy="258.5" rx="0.9" ry="1.1" fill="#687a52"/>
    <ellipse cx="711.9" cy="255.2" rx="1.4" ry="1.2" fill="#848e68"/>
    <ellipse cx="711.9" cy="286.7" rx="1.9" ry="0.7" fill="#5a4a36"/>
    <ellipse cx="720.5" cy="260.3" rx="1.0" ry="1.5" fill="#5a4a36"/>
    <ellipse cx="709.9" cy="279.7" rx="1.8" ry="1.3" fill="#242a1c"/>
    <ellipse cx="718.2" cy="287.1" rx="1.1" ry="0.8" fill="#242a1c"/>
    <ellipse cx="723.9" cy="250.0" rx="0.9" ry="0.9" fill="#848e68"/>
    <ellipse cx="704.1" cy="249.9" rx="1.1" ry="0.9" fill="#687a52"/>
    <ellipse cx="724.7" cy="256.3" rx="1.1" ry="1.6" fill="#848e68"/>
    <ellipse cx="714.6" cy="258.9" rx="1.3" ry="1.3" fill="#687a52"/>
    <ellipse cx="722.1" cy="271.2" rx="2.0" ry="1.4" fill="#242a1c"/>
    <ellipse cx="713.8" cy="286.8" rx="1.3" ry="0.8" fill="#242a1c"/>
    <ellipse cx="718.7" cy="299.4" rx="1.3" ry="1.1" fill="#242a1c"/>
    <ellipse cx="713.4" cy="267.1" rx="0.9" ry="1.5" fill="#687a52"/>
    <ellipse cx="716.1" cy="270.4" rx="1.6" ry="1.4" fill="#848e68"/>
    <ellipse cx="710.4" cy="288.3" rx="0.9" ry="0.8" fill="#687a52"/>
    <ellipse cx="719.6" cy="273.7" rx="1.9" ry="0.9" fill="#242a1c"/>
    <ellipse cx="708.6" cy="282.1" rx="1.3" ry="1.5" fill="#5a4a36"/>
    <ellipse cx="720.0" cy="277.6" rx="2.1" ry="1.5" fill="#5a4a36"/>
    <ellipse cx="713.7" cy="289.7" rx="1.2" ry="0.9" fill="#848e68"/>
    <ellipse cx="726.0" cy="285.9" rx="1.5" ry="0.7" fill="#5a4a36"/>
    <ellipse cx="704.1" cy="283.2" rx="1.6" ry="1.4" fill="#5a4a36"/>
    <ellipse cx="722.0" cy="276.1" rx="2.0" ry="1.2" fill="#242a1c"/>
    <ellipse cx="705.6" cy="271.6" rx="2.0" ry="1.4" fill="#242a1c"/>
    </g>
    <circle cx="715.4" cy="245.0" r="2.2" fill="none" stroke="#3a3a3a" stroke-width="0.9"/>
    <g clip-path="url(#fig2)">
    <rect x="736.7" y="247.0" width="23.699999999999932" height="54.60000000000002" fill="#949a9a"/>
    <ellipse cx="748.9" cy="276.6" rx="1.6" ry="1.6" fill="#7a8484"/>
    <ellipse cx="739.1" cy="276.8" rx="1.9" ry="0.7" fill="#c8ccca"/>
    <ellipse cx="743.6" cy="253.5" rx="1.2" ry="0.6" fill="#5e6868"/>
    <ellipse cx="739.8" cy="290.9" rx="1.4" ry="1.3" fill="#7a8484"/>
    <ellipse cx="754.3" cy="275.4" rx="1.9" ry="1.0" fill="#b0b8b6"/>
    <ellipse cx="755.2" cy="265.5" rx="1.0" ry="1.1" fill="#c8ccca"/>
    <ellipse cx="753.1" cy="296.1" rx="1.4" ry="1.4" fill="#b0b8b6"/>
    <ellipse cx="756.2" cy="290.4" rx="2.0" ry="1.5" fill="#c8ccca"/>
    <ellipse cx="749.1" cy="285.4" rx="1.9" ry="1.0" fill="#7a8484"/>
    <ellipse cx="757.6" cy="260.9" rx="1.0" ry="1.2" fill="#5e6868"/>
    <ellipse cx="744.7" cy="268.5" rx="1.5" ry="0.9" fill="#c8ccca"/>
    <ellipse cx="747.9" cy="286.4" rx="1.2" ry="0.8" fill="#5e6868"/>
    <ellipse cx="757.5" cy="287.6" rx="0.8" ry="1.1" fill="#c8ccca"/>
    <ellipse cx="744.5" cy="258.4" rx="1.3" ry="1.2" fill="#7a8484"/>
    <ellipse cx="750.6" cy="259.8" rx="1.1" ry="0.9" fill="#5e6868"/>
    <ellipse cx="757.5" cy="297.3" rx="1.7" ry="1.5" fill="#7a8484"/>
    <ellipse cx="756.2" cy="273.5" rx="1.4" ry="1.6" fill="#c8ccca"/>
    <ellipse cx="748.2" cy="259.6" rx="0.9" ry="1.5" fill="#7a8484"/>
    <ellipse cx="758.9" cy="289.8" rx="1.9" ry="1.4" fill="#c8ccca"/>
    <ellipse cx="752.0" cy="260.5" rx="0.8" ry="1.1" fill="#b0b8b6"/>
    <ellipse cx="747.5" cy="261.0" rx="1.4" ry="1.5" fill="#7a8484"/>
    <ellipse cx="741.1" cy="264.9" rx="1.2" ry="1.5" fill="#5e6868"/>
    <ellipse cx="751.5" cy="300.2" rx="1.2" ry="1.1" fill="#5e6868"/>
    <ellipse cx="750.1" cy="257.4" rx="1.1" ry="1.5" fill="#5e6868"/>
    <ellipse cx="755.5" cy="252.3" rx="1.2" ry="1.3" fill="#c8ccca"/>
    <ellipse cx="757.0" cy="284.5" rx="0.9" ry="1.3" fill="#b0b8b6"/>
    <ellipse cx="738.1" cy="257.9" rx="1.1" ry="1.3" fill="#7a8484"/>
    <ellipse cx="742.2" cy="276.6" rx="1.5" ry="0.8" fill="#b0b8b6"/>
    <ellipse cx="744.6" cy="269.3" rx="1.6" ry="1.6" fill="#c8ccca"/>
    <ellipse cx="745.5" cy="284.1" rx="0.9" ry="1.0" fill="#7a8484"/>
    <ellipse cx="753.9" cy="289.3" rx="1.0" ry="1.0" fill="#7a8484"/>
    <ellipse cx="753.1" cy="273.0" rx="1.2" ry="0.7" fill="#c8ccca"/>
    <ellipse cx="756.3" cy="292.4" rx="1.8" ry="1.5" fill="#5e6868"/>
    <ellipse cx="744.0" cy="267.8" rx="1.6" ry="0.9" fill="#b0b8b6"/>
    <ellipse cx="754.1" cy="277.2" rx="0.9" ry="0.8" fill="#7a8484"/>
    <ellipse cx="753.6" cy="265.3" rx="2.1" ry="1.2" fill="#b0b8b6"/>
    <ellipse cx="747.4" cy="268.1" rx="0.9" ry="1.2" fill="#5e6868"/>
    <ellipse cx="752.4" cy="285.3" rx="1.1" ry="1.0" fill="#7a8484"/>
    <ellipse cx="750.6" cy="252.7" rx="1.1" ry="0.8" fill="#c8ccca"/>
    <ellipse cx="747.1" cy="288.6" rx="1.3" ry="1.4" fill="#5e6868"/>
    <ellipse cx="751.7" cy="288.3" rx="1.9" ry="1.0" fill="#b0b8b6"/>
    <ellipse cx="757.7" cy="280.8" rx="1.8" ry="1.2" fill="#b0b8b6"/>
    <ellipse cx="759.0" cy="289.5" rx="1.7" ry="1.2" fill="#c8ccca"/>
    <ellipse cx="743.4" cy="257.9" rx="1.2" ry="1.0" fill="#7a8484"/>
    <ellipse cx="742.1" cy="265.5" rx="1.2" ry="0.7" fill="#5e6868"/>
    <ellipse cx="743.2" cy="276.3" rx="1.2" ry="0.8" fill="#5e6868"/>
    <ellipse cx="750.2" cy="258.4" rx="2.1" ry="1.6" fill="#5e6868"/>
    <ellipse cx="750.0" cy="249.4" rx="1.7" ry="1.4" fill="#5e6868"/>
    <ellipse cx="743.0" cy="278.3" rx="1.8" ry="0.9" fill="#b0b8b6"/>
    <ellipse cx="743.5" cy="294.4" rx="1.4" ry="1.3" fill="#5e6868"/>
    <ellipse cx="757.3" cy="276.6" rx="1.6" ry="1.2" fill="#b0b8b6"/>
    <ellipse cx="741.4" cy="287.2" rx="2.1" ry="0.9" fill="#5e6868"/>
    <ellipse cx="740.4" cy="291.4" rx="1.2" ry="1.5" fill="#5e6868"/>
    <ellipse cx="754.2" cy="267.1" rx="1.0" ry="1.2" fill="#c8ccca"/>
    <ellipse cx="747.6" cy="269.2" rx="1.9" ry="1.5" fill="#5e6868"/>
    <ellipse cx="744.4" cy="283.3" rx="1.8" ry="1.0" fill="#c8ccca"/>
    <ellipse cx="741.1" cy="269.7" rx="0.8" ry="1.1" fill="#c8ccca"/>
    <ellipse cx="750.1" cy="257.1" rx="1.5" ry="0.9" fill="#b0b8b6"/>
    <ellipse cx="738.9" cy="289.2" rx="1.8" ry="1.4" fill="#7a8484"/>
    <ellipse cx="758.5" cy="279.6" rx="1.5" ry="1.0" fill="#7a8484"/>
    <ellipse cx="754.0" cy="273.6" rx="2.2" ry="1.4" fill="#7a8484"/>
    <ellipse cx="755.6" cy="254.2" rx="1.0" ry="1.5" fill="#b0b8b6"/>
    <ellipse cx="749.1" cy="270.7" rx="2.1" ry="0.9" fill="#c8ccca"/>
    <ellipse cx="744.1" cy="280.4" rx="1.4" ry="1.0" fill="#b0b8b6"/>
    <ellipse cx="754.0" cy="264.0" rx="1.6" ry="0.7" fill="#c8ccca"/>
    <ellipse cx="756.0" cy="260.7" rx="2.0" ry="1.6" fill="#7a8484"/>
    <ellipse cx="752.8" cy="275.7" rx="1.1" ry="0.9" fill="#7a8484"/>
    <ellipse cx="758.1" cy="294.3" rx="2.2" ry="1.3" fill="#b0b8b6"/>
    <ellipse cx="756.5" cy="270.2" rx="1.9" ry="0.8" fill="#7a8484"/>
    <ellipse cx="750.0" cy="295.5" rx="0.9" ry="1.4" fill="#c8ccca"/>
    </g>
    <circle cx="748.6" cy="244.8" r="2.2" fill="none" stroke="#3a3a3a" stroke-width="0.9"/>
    <g clip-path="url(#fig3)">
    <rect x="769.5" y="247.7" width="22.5" height="53.30000000000001" fill="#2a2018"/>
    <ellipse cx="788.6" cy="278.2" rx="1.4" ry="0.9" fill="#6a4a20"/>
    <ellipse cx="771.0" cy="257.5" rx="1.4" ry="1.1" fill="#3a2a1a"/>
    <ellipse cx="773.4" cy="284.2" rx="1.1" ry="0.9" fill="#3a2a1a"/>
    <ellipse cx="788.9" cy="264.5" rx="1.5" ry="1.5" fill="#3a2a1a"/>
    <ellipse cx="788.5" cy="259.1" rx="2.0" ry="1.3" fill="#4a3020"/>
    <ellipse cx="774.5" cy="291.7" rx="1.3" ry="1.1" fill="#120c08"/>
    <ellipse cx="783.5" cy="284.5" rx="1.6" ry="1.1" fill="#120c08"/>
    <ellipse cx="774.4" cy="293.9" rx="0.9" ry="0.7" fill="#6a4a20"/>
    <ellipse cx="790.2" cy="262.8" rx="1.4" ry="1.5" fill="#6a4a20"/>
    <ellipse cx="784.8" cy="296.8" rx="1.4" ry="0.7" fill="#120c08"/>
    <ellipse cx="788.2" cy="254.9" rx="1.8" ry="0.9" fill="#120c08"/>
    <ellipse cx="780.8" cy="263.9" rx="1.2" ry="1.4" fill="#4a3020"/>
    <ellipse cx="782.6" cy="260.4" rx="1.2" ry="1.5" fill="#120c08"/>
    <ellipse cx="776.2" cy="281.5" rx="0.9" ry="1.6" fill="#3a2a1a"/>
    <ellipse cx="789.3" cy="252.5" rx="2.1" ry="0.6" fill="#6a4a20"/>
    <ellipse cx="781.5" cy="270.4" rx="1.6" ry="0.8" fill="#120c08"/>
    <ellipse cx="775.5" cy="263.0" rx="1.6" ry="0.8" fill="#120c08"/>
    <ellipse cx="790.7" cy="250.4" rx="1.4" ry="1.4" fill="#3a2a1a"/>
    <ellipse cx="770.6" cy="294.4" rx="0.9" ry="0.7" fill="#6a4a20"/>
    <ellipse cx="777.1" cy="273.5" rx="0.8" ry="0.9" fill="#120c08"/>
    <ellipse cx="782.7" cy="288.3" rx="1.0" ry="1.0" fill="#3a2a1a"/>
    <ellipse cx="781.7" cy="261.8" rx="1.8" ry="1.3" fill="#6a4a20"/>
    <ellipse cx="780.5" cy="260.0" rx="1.6" ry="1.1" fill="#4a3020"/>
    <ellipse cx="774.7" cy="298.5" rx="0.9" ry="1.0" fill="#120c08"/>
    <ellipse cx="777.2" cy="279.9" rx="1.7" ry="1.4" fill="#3a2a1a"/>
    <ellipse cx="785.3" cy="292.6" rx="0.8" ry="0.7" fill="#120c08"/>
    <ellipse cx="782.2" cy="276.6" rx="1.9" ry="0.8" fill="#120c08"/>
    <ellipse cx="771.6" cy="270.5" rx="1.8" ry="1.4" fill="#6a4a20"/>
    <ellipse cx="786.2" cy="274.3" rx="1.7" ry="1.1" fill="#3a2a1a"/>
    <ellipse cx="775.7" cy="256.9" rx="1.8" ry="1.4" fill="#3a2a1a"/>
    <ellipse cx="771.8" cy="269.8" rx="1.3" ry="0.8" fill="#4a3020"/>
    <ellipse cx="773.1" cy="287.5" rx="1.6" ry="0.7" fill="#3a2a1a"/>
    <ellipse cx="781.2" cy="299.3" rx="0.8" ry="1.0" fill="#120c08"/>
    <ellipse cx="772.4" cy="277.2" rx="1.5" ry="1.5" fill="#4a3020"/>
    <ellipse cx="784.4" cy="285.5" rx="2.2" ry="1.2" fill="#6a4a20"/>
    <ellipse cx="775.7" cy="277.0" rx="1.1" ry="1.1" fill="#120c08"/>
    <ellipse cx="778.0" cy="266.0" rx="2.2" ry="1.2" fill="#4a3020"/>
    <ellipse cx="773.8" cy="278.7" rx="2.2" ry="1.3" fill="#120c08"/>
    <ellipse cx="780.0" cy="268.9" rx="2.0" ry="1.0" fill="#4a3020"/>
    <ellipse cx="774.9" cy="266.5" rx="1.1" ry="1.1" fill="#120c08"/>
    <ellipse cx="780.3" cy="269.2" rx="1.6" ry="1.4" fill="#3a2a1a"/>
    <ellipse cx="779.7" cy="299.7" rx="1.8" ry="1.5" fill="#120c08"/>
    <ellipse cx="781.6" cy="270.2" rx="0.9" ry="0.9" fill="#6a4a20"/>
    <ellipse cx="783.2" cy="275.3" rx="1.8" ry="1.1" fill="#120c08"/>
    <ellipse cx="776.0" cy="267.2" rx="1.0" ry="1.5" fill="#6a4a20"/>
    <ellipse cx="773.3" cy="261.1" rx="2.0" ry="0.7" fill="#6a4a20"/>
    <ellipse cx="787.7" cy="271.8" rx="2.0" ry="1.0" fill="#6a4a20"/>
    <ellipse cx="786.3" cy="275.3" rx="0.9" ry="1.0" fill="#120c08"/>
    <ellipse cx="780.5" cy="258.3" rx="1.5" ry="0.7" fill="#120c08"/>
    <ellipse cx="776.9" cy="270.5" rx="1.6" ry="0.7" fill="#6a4a20"/>
    <ellipse cx="776.9" cy="271.9" rx="1.3" ry="1.5" fill="#6a4a20"/>
    <ellipse cx="781.5" cy="271.8" rx="1.0" ry="1.1" fill="#6a4a20"/>
    <ellipse cx="775.1" cy="263.7" rx="1.3" ry="0.8" fill="#4a3020"/>
    <ellipse cx="787.9" cy="287.0" rx="1.5" ry="0.6" fill="#6a4a20"/>
    <ellipse cx="784.0" cy="252.1" rx="2.0" ry="1.2" fill="#6a4a20"/>
    <ellipse cx="784.2" cy="297.7" rx="2.0" ry="0.8" fill="#6a4a20"/>
    <ellipse cx="772.3" cy="270.6" rx="1.3" ry="0.7" fill="#3a2a1a"/>
    <ellipse cx="789.6" cy="263.3" rx="1.8" ry="0.8" fill="#3a2a1a"/>
    <ellipse cx="774.6" cy="288.1" rx="1.3" ry="1.3" fill="#4a3020"/>
    <ellipse cx="785.7" cy="295.3" rx="1.9" ry="1.1" fill="#6a4a20"/>
    <ellipse cx="784.9" cy="277.1" rx="1.8" ry="0.6" fill="#3a2a1a"/>
    <ellipse cx="773.0" cy="295.4" rx="2.1" ry="0.9" fill="#3a2a1a"/>
    <ellipse cx="780.7" cy="278.8" rx="1.5" ry="0.9" fill="#6a4a20"/>
    <ellipse cx="772.0" cy="250.5" rx="1.3" ry="1.0" fill="#6a4a20"/>
    <ellipse cx="775.9" cy="283.0" rx="1.1" ry="1.1" fill="#6a4a20"/>
    <ellipse cx="790.1" cy="267.3" rx="1.6" ry="1.5" fill="#4a3020"/>
    <ellipse cx="783.4" cy="280.5" rx="1.4" ry="1.0" fill="#6a4a20"/>
    <ellipse cx="771.9" cy="272.5" rx="1.4" ry="1.6" fill="#3a2a1a"/>
    <ellipse cx="771.3" cy="255.7" rx="1.5" ry="0.9" fill="#6a4a20"/>
    <ellipse cx="780.2" cy="249.8" rx="1.6" ry="0.9" fill="#6a4a20"/>
    <ellipse cx="784.4" cy="260.7" rx="0.8" ry="1.7" fill="#ffd050"/>
    <ellipse cx="770.6" cy="276.8" rx="1.8" ry="2.1" fill="#f0a030"/>
    <ellipse cx="783.3" cy="277.5" rx="1.8" ry="2.4" fill="#ffd050"/>
    <ellipse cx="775.9" cy="254.0" rx="0.8" ry="2.2" fill="#f0a030"/>
    <ellipse cx="784.8" cy="283.9" rx="2.0" ry="2.2" fill="#f0a030"/>
    <ellipse cx="777.3" cy="284.1" rx="1.8" ry="1.3" fill="#ffd050"/>
    <ellipse cx="776.4" cy="287.1" rx="1.4" ry="1.2" fill="#f0a030"/>
    <ellipse cx="777.9" cy="284.9" rx="1.9" ry="2.1" fill="#f0a030"/>
    <ellipse cx="790.8" cy="290.7" rx="1.9" ry="1.3" fill="#ffd050"/>
    <ellipse cx="781.0" cy="283.5" rx="0.8" ry="1.9" fill="#ffd050"/>
    <ellipse cx="788.3" cy="251.4" rx="1.1" ry="1.7" fill="#c06018"/>
    <ellipse cx="778.5" cy="285.4" rx="1.1" ry="2.0" fill="#ffd050"/>
    <ellipse cx="774.3" cy="292.6" rx="1.0" ry="1.8" fill="#f0a030"/>
    <ellipse cx="782.1" cy="270.3" rx="1.6" ry="1.9" fill="#ffd050"/>
    <ellipse cx="786.9" cy="255.1" rx="1.3" ry="1.9" fill="#f0a030"/>
    <ellipse cx="783.9" cy="298.7" rx="1.4" ry="2.0" fill="#f0a030"/>
    <ellipse cx="776.0" cy="262.6" rx="1.1" ry="1.9" fill="#ffd050"/>
    <ellipse cx="789.6" cy="299.4" rx="0.9" ry="2.0" fill="#f0a030"/>
    <ellipse cx="788.4" cy="258.6" rx="1.2" ry="1.7" fill="#f0a030"/>
    <ellipse cx="778.8" cy="295.1" rx="1.8" ry="2.3" fill="#f0a030"/>
    <ellipse cx="778.2" cy="264.6" rx="1.8" ry="2.2" fill="#ffd050"/>
    <ellipse cx="775.1" cy="285.7" rx="1.3" ry="1.0" fill="#c06018"/>
    <ellipse cx="778.5" cy="284.3" rx="1.5" ry="2.2" fill="#f0a030"/>
    <ellipse cx="779.6" cy="291.5" rx="1.5" ry="2.3" fill="#ffd050"/>
    <ellipse cx="779.4" cy="256.5" rx="1.9" ry="1.3" fill="#c06018"/>
    </g>
    <circle cx="781.1" cy="244.8" r="2.2" fill="none" stroke="#3a3a3a" stroke-width="0.9"/>
    <ellipse cx="768.0" cy="281.3" rx="1.1" ry="2.5" fill="#ffd850" opacity="0.85"/>
    <ellipse cx="777.5" cy="268.3" rx="1.1" ry="2.1" fill="#ffd850" opacity="0.85"/>
    <ellipse cx="765.8" cy="294.6" rx="1.1" ry="2.2" fill="#ffd850" opacity="0.85"/>
    <ellipse cx="769.1" cy="274.2" rx="1.8" ry="2.4" fill="#ffd850" opacity="0.85"/>
    <ellipse cx="788.3" cy="274.2" rx="1.2" ry="3.6" fill="#ffd850" opacity="0.85"/>
    <ellipse cx="775.1" cy="252.9" rx="1.4" ry="3.3" fill="#ffd850" opacity="0.85"/>
    <ellipse cx="781.4" cy="263.9" rx="1.7" ry="3.7" fill="#ffd850" opacity="0.85"/>
    <ellipse cx="791.8" cy="272.2" rx="1.6" ry="3.4" fill="#ffd850" opacity="0.85"/>
    <ellipse cx="768.9" cy="251.3" rx="1.0" ry="2.2" fill="#ffd850" opacity="0.85"/>
    <ellipse cx="766.1" cy="267.9" rx="1.6" ry="2.6" fill="#ffd850" opacity="0.85"/>
    <ellipse cx="778.4" cy="250.5" rx="1.0" ry="3.9" fill="#ffd850" opacity="0.85"/>
    <ellipse cx="764.3" cy="276.4" rx="1.6" ry="3.6" fill="#ffd850" opacity="0.85"/>
    <ellipse cx="784.6" cy="270.0" rx="1.6" ry="3.7" fill="#ffd850" opacity="0.85"/>
    <ellipse cx="785.5" cy="299.3" rx="0.9" ry="3.9" fill="#ffd850" opacity="0.85"/>
    <path d="M741,300 C743,296 745,298 746,295 C747,298 749,296 750,299 C752,296 754,298 756,295 L758,301 L741,301 Z" fill="#f0a030" opacity="0.9"/>

    <path d="M757,235 L791,235 L790,240 C787,246 784,248 780,249 C776,249 772,250 770,254 C768,252 764,248 761,244 C759,241 757,238 757,235 Z" fill="#f8c848" opacity="0.9"/>
    <path d="M760,236 L786,236 C784,240 781,243 777,244 C773,245 769,246 767,248 C765,245 762,241 760,236 Z" fill="#ffe890" opacity="0.85"/>
    <circle cx="781.1" cy="244.8" r="2.2" fill="none" stroke="#5a4020" stroke-width="0.9"/>
    <path d="M770,268 C768,274 770,280 768,286 C767,292 769,296 770,300 L772,300 C771,292 773,286 772,278 C772,272 771,270 770,268 Z" fill="#ffd050" opacity="0.9"/>
    <path d="M789,262 C791,270 790,278 792,286 L791,296 C789,288 788,276 789,262 Z" fill="#ffc840" opacity="0.9"/>
  </g>

  <!-- solar image -->
  <g clip-path="url(#csolar)">
    <rect x="637" y="291" width="106" height="70" fill="url(#gsky)"/>
    <circle cx="661" cy="313" r="36" fill="url(#gsun2)" opacity="0.75"/>
    <path d="M637,302 C641,302 645,304 649,306.5 C653,309 656,312 659,315 C662,317 666,317.5 670,317.5 C678,317.5 686,318.5 694,319.5 C702,320 712,320.5 722,321 C730,321 736,320.5 742,321 L742,330 L637,334 Z" fill="#5a6420"/>
    <path d="M652,310 C656,313 660,316 665,317.5 C672,317.5 680,318 690,319 L692,322 L660,324 L650,318 Z" fill="#c8a838" opacity="0.85"/>
    <circle cx="661" cy="314" r="13" fill="url(#gsun2)"/>
    <path d="M637,328 L642,328.4 L722.3,346.7 L733.5,319.4 L742,322 L742,361 L637,361 Z" fill="#a0ac3c"/>
    <path d="M733.5,320 L742,322 L742,361 L700,361 L722.3,346.7 Z" fill="#6a8a38"/>
    <path d="M642,328.4 L722.3,346.7 L715,352 L680,352 L650,340 Z" fill="#3a3a1e"/>
    <path d="M642.2,327 L733.5,319.4 L722.3,346.7 Z" fill="url(#gpanel)"/>
    <g stroke="#c8d0e8" stroke-width="0.6" opacity="0.7" fill="none">
      <path d="M650,328 L731,322.5"/>
      <path d="M665,333 L729,327.5"/>
      <path d="M683,337.5 L726.5,334"/>
      <path d="M700,341.5 L724,339.5"/>
      <path d="M711.5,321.3 L700,341.6"/>
      <path d="M690,323 L674,335"/>
    </g>
  </g>

  <!-- bullets image -->
  <g clip-path="url(#cbul)">
    <rect x="658" y="347" width="128" height="67" fill="#060504"/>
    <rect x="658" y="396" width="128" height="18" fill="url(#grefl)"/>
    <path d="M670.6,366.4 C670.6,358.0 671.4,355.0 671.7,355.0 C672.0,355.0 672.8,358.0 672.8,366.4 Z" fill="#a8582a"/>
    <path d="M670.6,366.4 L672.8,366.4 L673.6,368.9 L673.6,393.0 L669.8,393.0 L669.8,368.9 Z" fill="url(#gbrass)"/>
    <rect x="669.8" y="394.0" width="3.8" height="12.0" fill="url(#gbrass)" opacity="0.22"/>
    <path d="M671.0,358.0 L671.7,355.0 L672.4,358.0 Z" fill="#d02818"/>
    <path d="M679.3,366.4 C679.3,358.0 680.1,355.0 680.4,355.0 C680.7,355.0 681.5,358.0 681.5,366.4 Z" fill="#a8582a"/>
    <path d="M679.3,366.4 L681.5,366.4 L682.3,368.9 L682.3,393.0 L678.5,393.0 L678.5,368.9 Z" fill="url(#gbrass)"/>
    <rect x="678.5" y="394.0" width="3.8" height="12.0" fill="url(#gbrass)" opacity="0.22"/>
    <path d="M679.7,358.0 L680.4,355.0 L681.1,358.0 Z" fill="#d02818"/>
    <path d="M685.4,373.1 C685.4,367.5 686.2,364.5 686.5,364.5 C686.8,364.5 687.6,367.5 687.6,373.1 Z" fill="#a8582a"/>
    <path d="M685.4,373.1 L687.6,373.1 L688.4,375.6 L688.4,393.0 L684.6,393.0 L684.6,375.6 Z" fill="url(#gbrass)"/>
    <rect x="684.6" y="394.0" width="3.8" height="12.0" fill="url(#gbrass)" opacity="0.22"/>
    <path d="M685.8,367.5 L686.5,364.5 L687.2,367.5 Z" fill="#d02818"/>
    <path d="M689.9,373.1 C689.9,367.5 690.7,364.5 691.0,364.5 C691.3,364.5 692.1,367.5 692.1,373.1 Z" fill="#a8582a"/>
    <path d="M689.9,373.1 L692.1,373.1 L692.9,375.6 L692.9,393.0 L689.1,393.0 L689.1,375.6 Z" fill="url(#gbrass)"/>
    <rect x="689.1" y="394.0" width="3.8" height="12.0" fill="url(#gbrass)" opacity="0.22"/>
    <path d="M690.3,367.5 L691.0,364.5 L691.7,367.5 Z" fill="#d02818"/>
    <path d="M696.9,373.1 C696.9,367.5 697.7,364.5 698.0,364.5 C698.3,364.5 699.1,367.5 699.1,373.1 Z" fill="#a8582a"/>
    <path d="M696.9,373.1 L699.1,373.1 L699.9,375.6 L699.9,393.0 L696.1,393.0 L696.1,375.6 Z" fill="url(#gbrass)"/>
    <rect x="696.1" y="394.0" width="3.8" height="12.0" fill="url(#gbrass)" opacity="0.22"/>
    <path d="M697.3,367.5 L698.0,364.5 L698.7,367.5 Z" fill="#d02818"/>
    <path d="M705.2,371.9 C705.2,364.5 706.0,361.5 706.3,361.5 C706.6,361.5 707.4,364.5 707.4,371.9 Z" fill="#8a6048"/>
    <path d="M705.2,371.9 L707.4,371.9 L708.2,374.4 L708.2,396.0 L704.4,396.0 L704.4,374.4 Z" fill="url(#gsilver)"/>
    <rect x="704.4" y="397.0" width="3.8" height="12.0" fill="url(#gsilver)" opacity="0.22"/>
    <path d="M710.2,372.2 C710.2,365.0 711.0,362.0 711.3,362.0 C711.6,362.0 712.4,365.0 712.4,372.2 Z" fill="#8a6048"/>
    <path d="M710.2,372.2 L712.4,372.2 L713.2,374.7 L713.2,396.0 L709.4,396.0 L709.4,374.7 Z" fill="url(#gsilver)"/>
    <rect x="709.4" y="397.0" width="3.8" height="12.0" fill="url(#gsilver)" opacity="0.22"/>
    <path d="M715.6,372.2 C715.6,365.0 716.4,362.0 716.7,362.0 C717.0,362.0 717.8,365.0 717.8,372.2 Z" fill="#8a6048"/>
    <path d="M715.6,372.2 L717.8,372.2 L718.6,374.7 L718.6,396.0 L714.8,396.0 L714.8,374.7 Z" fill="url(#gsilver)"/>
    <rect x="714.8" y="397.0" width="3.8" height="12.0" fill="url(#gsilver)" opacity="0.22"/>
    <path d="M768.4,370.9 C768.4,364.5 769.2,361.5 769.5,361.5 C769.8,361.5 770.6,364.5 770.6,370.9 Z" fill="#8a6048"/>
    <path d="M768.4,370.9 L770.6,370.9 L771.4,373.4 L771.4,393.0 L767.6,393.0 L767.6,373.4 Z" fill="url(#gsilver)"/>
    <rect x="767.6" y="394.0" width="3.8" height="12.0" fill="url(#gsilver)" opacity="0.22"/>
    <path d="M772.4,370.9 C772.4,364.5 773.2,361.5 773.5,361.5 C773.8,361.5 774.6,364.5 774.6,370.9 Z" fill="#8a6048"/>
    <path d="M772.4,370.9 L774.6,370.9 L775.4,373.4 L775.4,393.0 L771.6,393.0 L771.6,373.4 Z" fill="url(#gsilver)"/>
    <rect x="771.6" y="394.0" width="3.8" height="12.0" fill="url(#gsilver)" opacity="0.22"/>
    <rect x="720.7" y="386.0" width="4.6" height="16.0" fill="#2e2a28"/>
    <path d="M720.7,386.5 C720.7,382.0 722.0,381.0 723.0,381.0 C724.0,381.0 725.3,382.0 725.3,386.5 Z" fill="url(#gcopper)"/>
    <rect x="721.5" y="387.0" width="0.9" height="14.0" fill="#6a6460" opacity="0.8"/>
    <rect x="725.7" y="384.0" width="4.6" height="19.0" fill="#2e2a28"/>
    <path d="M725.7,384.5 C725.7,380.0 727.0,379.0 728.0,379.0 C729.0,379.0 730.3,380.0 730.3,384.5 Z" fill="url(#gcopper)"/>
    <rect x="726.5" y="385.0" width="0.9" height="17.0" fill="#6a6460" opacity="0.8"/>
    <rect x="730.7" y="383.0" width="4.6" height="20.0" fill="#2e2a28"/>
    <path d="M730.7,383.5 C730.7,379.0 732.0,378.0 733.0,378.0 C734.0,378.0 735.3,379.0 735.3,383.5 Z" fill="url(#gcopper)"/>
    <rect x="731.5" y="384.0" width="0.9" height="18.0" fill="#6a6460" opacity="0.8"/>
    <rect x="735.7" y="383.0" width="4.6" height="20.0" fill="#2e2a28"/>
    <path d="M735.7,383.5 C735.7,379.0 737.0,378.0 738.0,378.0 C739.0,378.0 740.3,379.0 740.3,383.5 Z" fill="url(#gcopper)"/>
    <rect x="736.5" y="384.0" width="0.9" height="18.0" fill="#6a6460" opacity="0.8"/>
    <rect x="740.7" y="383.0" width="4.6" height="19.0" fill="#2e2a28"/>
    <path d="M740.7,383.5 C740.7,379.0 742.0,378.0 743.0,378.0 C744.0,378.0 745.3,379.0 745.3,383.5 Z" fill="url(#gcopper)"/>
    <rect x="741.5" y="384.0" width="0.9" height="17.0" fill="#6a6460" opacity="0.8"/>
    <rect x="745.7" y="384.0" width="4.6" height="17.0" fill="#2e2a28"/>
    <path d="M745.7,384.5 C745.7,380.0 747.0,379.0 748.0,379.0 C749.0,379.0 750.3,380.0 750.3,384.5 Z" fill="url(#gcopper)"/>
    <rect x="746.5" y="385.0" width="0.9" height="15.0" fill="#6a6460" opacity="0.8"/>
    <rect x="750.7" y="386.0" width="4.6" height="14.0" fill="#2e2a28"/>
    <path d="M750.7,386.5 C750.7,382.0 752.0,381.0 753.0,381.0 C754.0,381.0 755.3,382.0 755.3,386.5 Z" fill="url(#gcopper)"/>
    <rect x="751.5" y="387.0" width="0.9" height="12.0" fill="#6a6460" opacity="0.8"/>
    <rect x="755.7" y="387.0" width="4.6" height="11.0" fill="#2e2a28"/>
    <path d="M755.7,387.5 C755.7,383.0 757.0,382.0 758.0,382.0 C759.0,382.0 760.3,383.0 760.3,387.5 Z" fill="url(#gcopper)"/>
    <rect x="756.5" y="388.0" width="0.9" height="9.0" fill="#6a6460" opacity="0.8"/>
    <rect x="723.7" y="390.0" width="4.6" height="14.0" fill="#383230"/>
    <path d="M723.7,390.5 C723.7,386.0 725.0,385.0 726.0,385.0 C727.0,385.0 728.3,386.0 728.3,390.5 Z" fill="url(#gcopper)"/>
    <rect x="728.7" y="389.0" width="4.6" height="16.0" fill="#383230"/>
    <path d="M728.7,389.5 C728.7,385.0 730.0,384.0 731.0,384.0 C732.0,384.0 733.3,385.0 733.3,389.5 Z" fill="url(#gcopper)"/>
    <rect x="733.7" y="389.0" width="4.6" height="16.0" fill="#383230"/>
    <path d="M733.7,389.5 C733.7,385.0 735.0,384.0 736.0,384.0 C737.0,384.0 738.3,385.0 738.3,389.5 Z" fill="url(#gcopper)"/>
    <rect x="738.7" y="389.0" width="4.6" height="16.0" fill="#383230"/>
    <path d="M738.7,389.5 C738.7,385.0 740.0,384.0 741.0,384.0 C742.0,384.0 743.3,385.0 743.3,389.5 Z" fill="url(#gcopper)"/>
    <rect x="743.7" y="390.0" width="4.6" height="14.0" fill="#383230"/>
    <path d="M743.7,390.5 C743.7,386.0 745.0,385.0 746.0,385.0 C747.0,385.0 748.3,386.0 748.3,390.5 Z" fill="url(#gcopper)"/>
    <rect x="748.7" y="391.0" width="4.6" height="12.0" fill="#383230"/>
    <path d="M748.7,391.5 C748.7,387.0 750.0,386.0 751.0,386.0 C752.0,386.0 753.3,387.0 753.3,391.5 Z" fill="url(#gcopper)"/>
    <rect x="694.2" y="393" width="4.4" height="9.5" fill="url(#gsilver2)"/>
    <path d="M694.2,393.5 C694.2,389.5 698.6,389.5 698.6,393.5 Z" fill="#c87848"/>
    <rect x="694.2" y="403" width="4.4" height="8" fill="#b0b0b0" opacity="0.2"/>
    <rect x="699.2" y="393" width="4.4" height="9.5" fill="url(#gsilver2)"/>
    <path d="M699.2,393.5 C699.2,389.5 703.6,389.5 703.6,393.5 Z" fill="#c87848"/>
    <rect x="699.2" y="403" width="4.4" height="8" fill="#b0b0b0" opacity="0.2"/>
    <rect x="704.1" y="393" width="4.4" height="9.5" fill="url(#gsilver2)"/>
    <path d="M704.1,393.5 C704.1,389.5 708.5,389.5 708.5,393.5 Z" fill="#c87848"/>
    <rect x="704.1" y="403" width="4.4" height="8" fill="#b0b0b0" opacity="0.2"/>
    <path d="M664,394 L684,386.5 L686,390 L666,397.5 Z" fill="url(#gbrass)"/>
    <path d="M684,386.5 L689,385.5 L686,390 Z" fill="#b06030"/>
    <path d="M674,399 L693,392 L695,395 L676,402 Z" fill="#8a6030"/>
    <path d="M693,392 L698,391.5 L695,395 Z" fill="#c06838"/>
    <path d="M658,389.5 L667,387.5 L667.5,390 L658,392 Z" fill="#9a6030"/>
    <path d="M743,403.5 L766,397 L768,401 L745,407.5 Z" fill="#6a625a"/>
    <path d="M766,397 L776,397.5 L776,400 L768,401 Z" fill="#a06848"/>
    <path d="M720,405 C720,402 723,401 724,404 L724,409 L720,409 Z" fill="#908888"/>
    <ellipse cx="668" cy="393" rx="2.2" ry="2.5" fill="#c8c0a8"/>
    <ellipse cx="716" cy="400" rx="2.2" ry="2.2" fill="#d0d0d0"/>

  </g>
  <!-- orange arrows -->
  <g fill="#FF9900">
    <polygon points="216,410 236,430 226.4,430 226.4,457 206,457 206,430 196.4,430"/>
    <polygon points="329,409 346,426 338,426 338,457 320,457 320,426 312,426"/>
  </g>
  <path d="M338,421 C341,419 343,418 346,417.3 C352,415.6 358,414.6 366,413.6 C374,412.6 382,411.2 392,410.6 C400,410 408,410 416,411 C424,412 428,413.5 431,416 C434,419 436,424 437.5,430 C439,437 441,446 442.8,456" fill="none" stroke="#FF9900" stroke-width="3" stroke-linecap="round"/>
  <!-- plus -->
  <path d="M348,438.3 H360 M354,432.3 V444.5" stroke="#3c3c3c" stroke-width="1.7"/>
  <!-- rice shield -->
  <path d="M364.8,424.6 Q374.8,423.6 384.8,424.6 L384.8,437 Q384,443 374.8,447.3 Q365.6,443 364.8,437 Z" fill="#102a6e"/>
  <path d="M365.2,438 L374.8,429.8 L384.4,438" fill="none" stroke="#fff" stroke-width="1.5"/>
  <path d="M366.2,441.2 L374.8,433.6 L383.4,441.2" fill="none" stroke="#fff" stroke-width="1.4"/>
  <g fill="#c8d0e8">
    <ellipse cx="368.8" cy="428.2" rx="1.3" ry="1.8"/>
    <ellipse cx="380.6" cy="428.2" rx="1.3" ry="1.8"/>
    <ellipse cx="374.8" cy="441.8" rx="1.3" ry="1.8"/>
  </g>
  <text x="0" y="0" transform="translate(391.6,440.8) scale(0.79,1)" font-family="Liberation Serif" font-size="21" fill="#1c2a6c">RICE</text>
</svg>

<div class="a" style="left:160.6px;top:455.6px;width:288.3px;height:69px;background:#FF9900;"></div>
<div class="a big" style="left:160.6px;top:467.8px;width:288.3px;line-height:23.3px;">LKY's strategy is to QUICKLY<br>develop this in the USA</div>

</body></html>
